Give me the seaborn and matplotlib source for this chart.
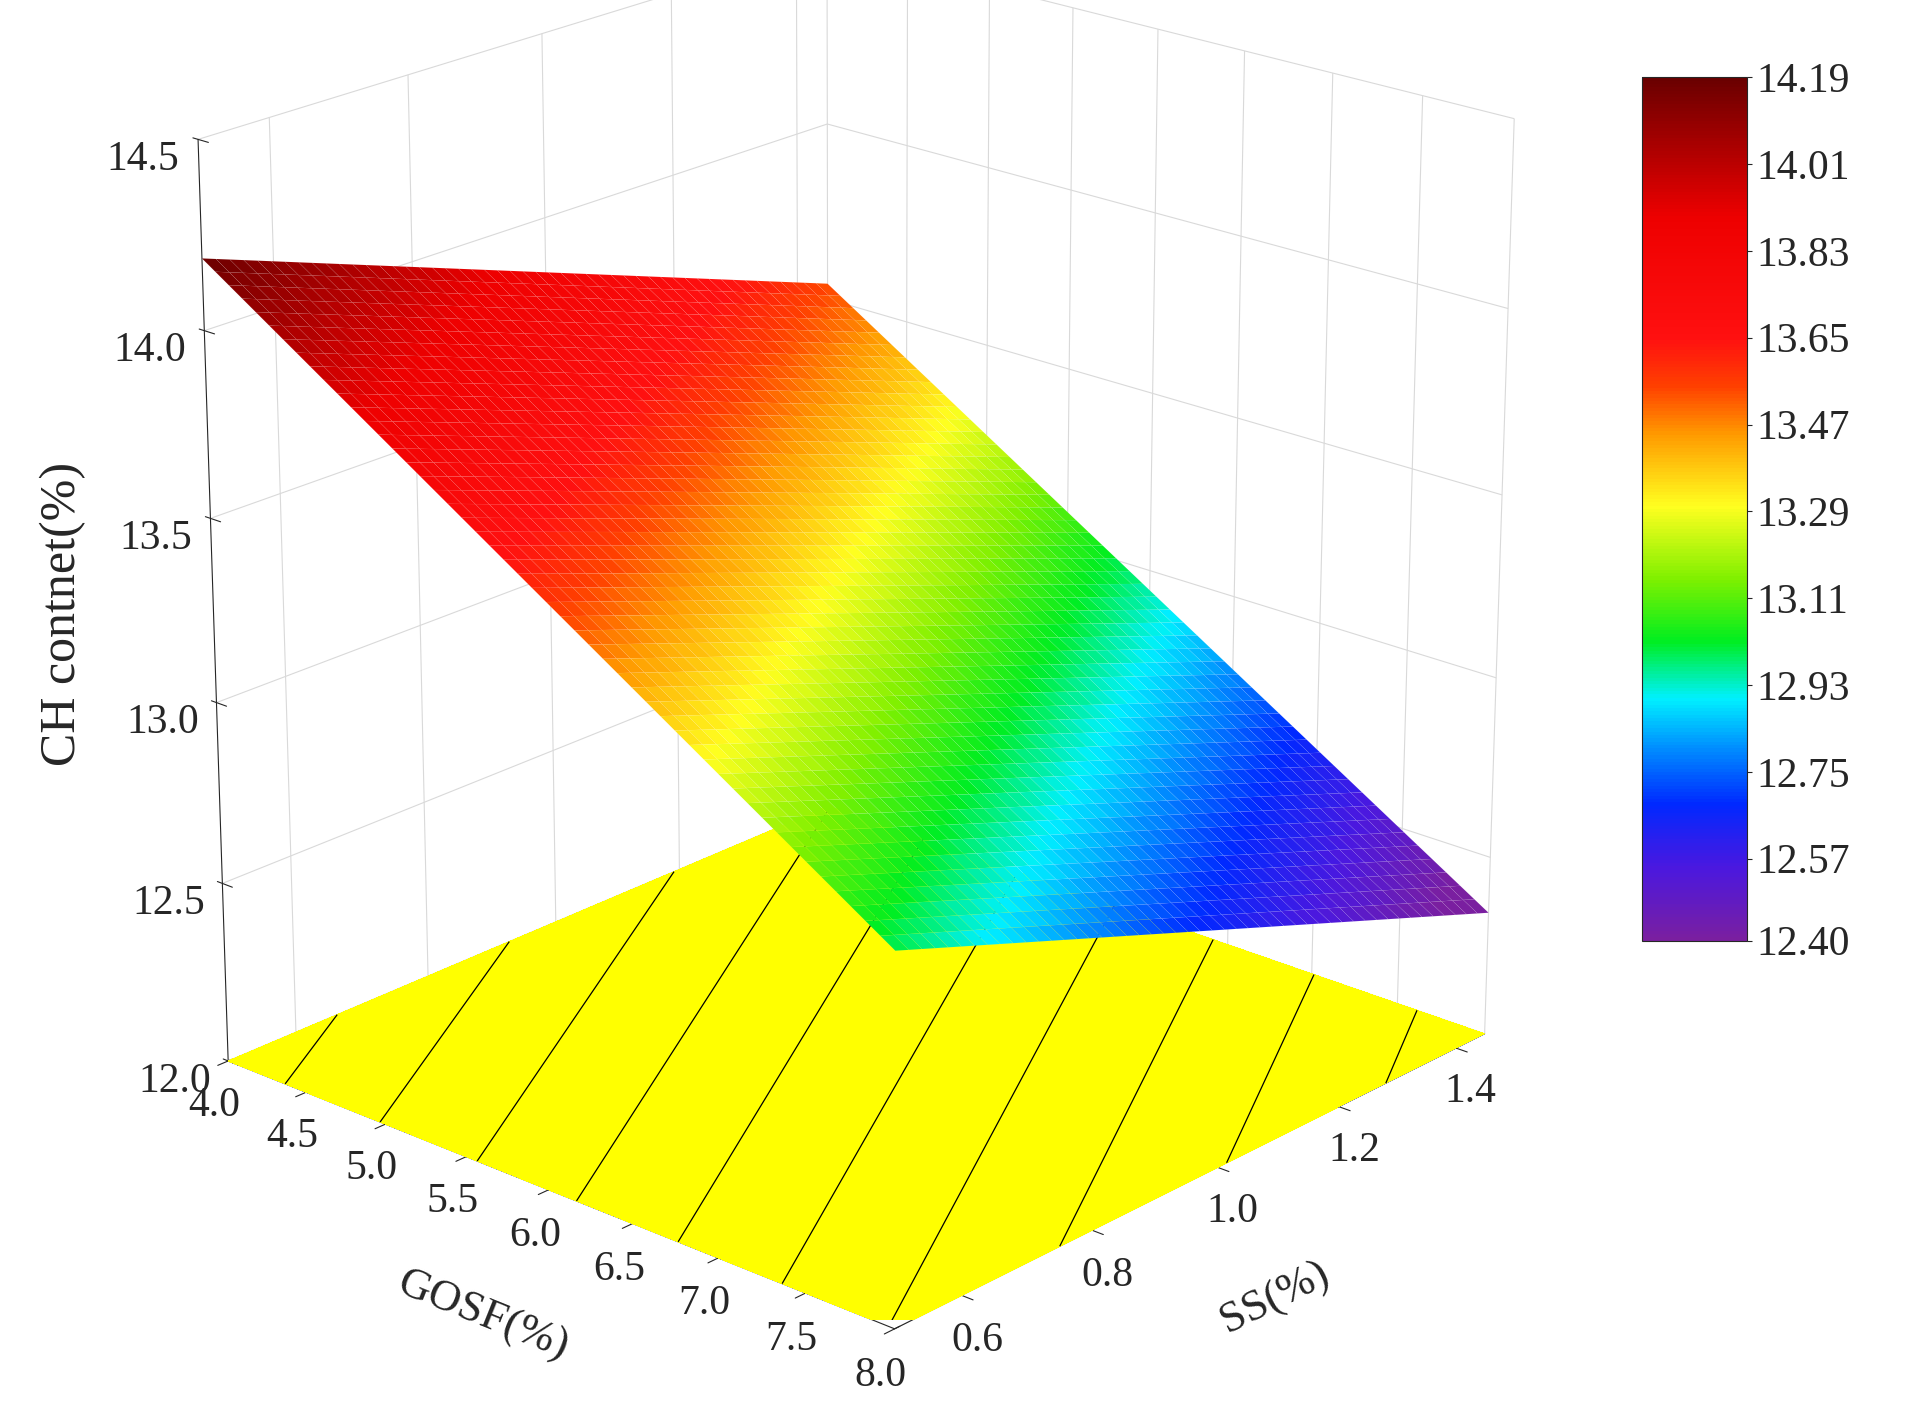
import numpy as np
import matplotlib
matplotlib.use("Agg")
import matplotlib.pyplot as plt
import seaborn as sns
from matplotlib.colors import LinearSegmentedColormap, Normalize

sns.set_style("white")
plt.rcParams['font.family'] = ['Liberation Serif', 'DejaVu Serif']

# Fitted linear response surface
intercept = 14.19      # CH at GOSF=4, SS=0.5
coef_gosf = -0.30
coef_ss = -0.68
gosf_range = [4.0, 8.0]
ss_range = [0.5, 1.45]
gosf_ticks = [4.0, 4.5, 5.0, 5.5, 6.0, 6.5, 7.0, 7.5, 8.0]
ss_ticks = [0.6, 0.8, 1.0, 1.2, 1.4]
z_ticks = [12.0, 12.5, 13.0, 13.5, 14.0, 14.5]
cbar_ticks = [12.40, 12.57, 12.75, 12.93, 13.11, 13.29, 13.47, 13.65, 13.83, 14.01, 14.19]

G, S = np.meshgrid(np.linspace(*gosf_range, 50), np.linspace(*ss_range, 50))
Z = intercept + coef_gosf * (G - 4.0) + coef_ss * (S - 0.5)

lo, hi = 12.40, 14.19
stops = [(12.40, "#7a1fa0"), (12.55, "#4a18e0"), (12.68, "#0028ff"), (12.80, "#0090ff"),
         (12.90, "#00f0ff"), (13.02, "#00ee20"), (13.15, "#80f000"), (13.30, "#ffff20"),
         (13.45, "#ff9a00"), (13.55, "#ff4000"), (13.65, "#ff1010"), (13.90, "#ee0000"),
         (14.19, "#6a0000")]
cmap = LinearSegmentedColormap.from_list("origin", [((v - lo) / (hi - lo), c) for v, c in stops])
norm = Normalize(lo, hi)

fig = plt.figure(figsize=(19.09, 14.04), dpi=100)
ax = fig.add_axes([0.01, 0.06, 0.86, 1.0], projection='3d', computed_zorder=False)
ax.contourf(G, S, Z, levels=[11, 15], colors=['#ffff00'], zdir='z', offset=12.0, zorder=1)
ax.contour(G, S, Z, levels=np.arange(12.46, 14.2, 0.18), colors='k', linewidths=0.9,
           zdir='z', offset=12.0, zorder=2)
ax.plot_surface(G, S, Z, cmap=cmap, norm=norm, rstride=1, cstride=1,
                linewidth=0.2, edgecolor=(1, 1, 1, 0.12), antialiased=True, shade=False, zorder=3)

ax.set_xlim(*gosf_range)
ax.set_ylim(*ss_range)
ax.set_zlim(12.0, 14.5)
ax.set_xticks(gosf_ticks)
ax.set_yticks(ss_ticks)
ax.set_zticks(z_ticks)
ax.tick_params(labelsize=30)
ax.tick_params(axis='z', pad=14)
ax.set_xlabel("GOSF(%)", fontsize=32, labelpad=34)
ax.set_ylabel("SS(%)", fontsize=32, labelpad=34)
ax.zaxis.set_rotate_label(False)
ax.set_zlabel("CH contnet(%)", fontsize=36, labelpad=40, rotation=90)
ax.zaxis._axinfo['juggled'] = (1, 2, 0)
ax.view_init(elev=21, azim=-48)
ax.set_box_aspect((1, 1, 1.08), zoom=1.12)
for a in (ax.xaxis, ax.yaxis, ax.zaxis):
    a.set_pane_color((1, 1, 1, 0))
    a._axinfo["grid"]["color"] = (0.85, 0.85, 0.85, 1)
    a._axinfo["grid"]["linewidth"] = 0.8

cax = fig.add_axes([0.86, 0.33, 0.055, 0.615])
sm = plt.cm.ScalarMappable(cmap=cmap, norm=norm)
cb = fig.colorbar(sm, cax=cax, ticks=cbar_ticks)
cb.ax.set_yticklabels([f"{t:.2f}" for t in cbar_ticks])
cb.ax.tick_params(labelsize=30)

fig.savefig("out.png", dpi=100)
